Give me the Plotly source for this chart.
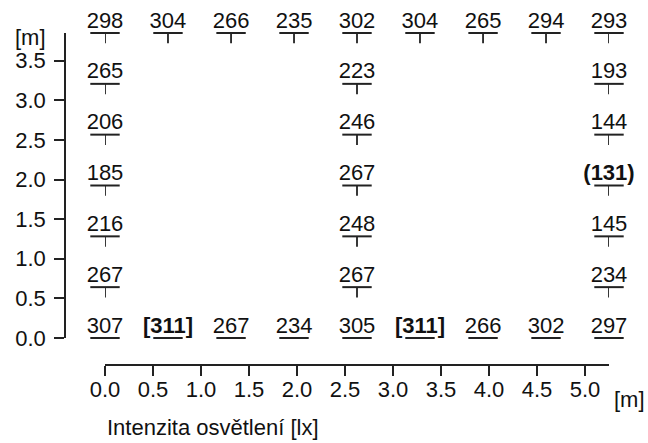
import plotly.graph_objects as go

# Measurement grid positions [m]
col_x = [0.0, 0.656, 1.313, 1.969, 2.625, 3.281, 3.938, 4.594, 5.25]
row_y = [0.0, 0.642, 1.283, 1.925, 2.567, 3.208, 3.85]

# Illuminance [lx] along the top and bottom walls (left to right)
top_lux = [298, 304, 266, 235, 302, 304, 265, 294, 293]
bottom_lux = [307, 311, 267, 234, 305, 311, 266, 302, 297]

# Illuminance [lx] on the inner rows (bottom to top) for left, middle, right columns
left_lux = [267, 216, 185, 206, 265]
middle_lux = [267, 248, 267, 246, 223]
right_lux = [234, 145, 131, 144, 193]
middle_col = 4  # index into col_x

x_ticks = [0.0, 0.5, 1.0, 1.5, 2.0, 2.5, 3.0, 3.5, 4.0, 4.5, 5.0]
y_ticks = [0.0, 0.5, 1.0, 1.5, 2.0, 2.5, 3.0, 3.5]

# Assemble points
xs, ys, vals = [], [], []
for i, v in enumerate(bottom_lux):
    xs.append(col_x[i]); ys.append(row_y[0]); vals.append(v)
for i, v in enumerate(top_lux):
    xs.append(col_x[i]); ys.append(row_y[-1]); vals.append(v)
for j in range(len(left_lux)):
    yy = row_y[j + 1]
    for cx, arr in ((col_x[0], left_lux), (col_x[middle_col], middle_lux), (col_x[-1], right_lux)):
        xs.append(cx); ys.append(yy); vals.append(arr[j])

vmax, vmin = max(vals), min(vals)


def label(v):
    if v == vmax:
        return f"<b>[{v}]</b>"
    if v == vmin:
        return f"<b>({v})</b>"
    return str(v)


texts = [label(v) for v in vals]

FONT = "Liberation Sans, Arial, Helvetica, sans-serif"
INK = "#222222"
TXT = "#111111"
FS = 22
STEM = 0.13  # length of the marker stem below each point [m]

fig = go.Figure()

# T-shaped point markers: horizontal bar + short stem downward
fig.add_trace(go.Scatter(
    x=xs, y=ys, mode="markers",
    marker=dict(symbol="line-ew", size=21, line=dict(width=2, color=INK), color=INK),
    error_y=dict(type="data", symmetric=False, array=[0] * len(ys),
                 arrayminus=[STEM] * len(ys), width=0, thickness=1.8, color=INK),
    cliponaxis=False, hoverinfo="skip", showlegend=False,
))

# Value labels
fig.add_trace(go.Scatter(
    x=xs, y=ys, mode="text", text=texts, textposition="top center",
    textfont=dict(family=FONT, size=FS, color=TXT),
    cliponaxis=False, hoverinfo="skip", showlegend=False,
))

W, H = 648, 443
ml, mr, mt, mb = 65, 39, 33, 78
pw, ph = W - ml - mr, H - mt - mb

fig.update_layout(
    width=W, height=H,
    margin=dict(l=ml, r=mr, t=mt, b=mb, pad=0),
    paper_bgcolor="white", plot_bgcolor="white",
    font=dict(family=FONT, size=FS, color=TXT),
    xaxis=dict(
        domain=[(105 - ml) / pw, 1], range=[col_x[0], col_x[-1]],
        anchor="free", position=0,
        showgrid=False, zeroline=False,
        showline=True, linecolor=INK, linewidth=1.5,
        ticks="outside", ticklen=10, tickwidth=1.5, tickcolor=INK,
        tickvals=x_ticks, ticktext=[f"{t:.1f}" for t in x_ticks],
        tickfont=dict(family=FONT, size=FS, color=TXT),
        ticklabelstandoff=-5,
    ),
    yaxis=dict(
        domain=[(365 - 338) / ph, 1], range=[row_y[0], row_y[-1]],
        anchor="free", position=0,
        showgrid=False, zeroline=False,
        showline=True, linecolor=INK, linewidth=1.5,
        ticks="outside", ticklen=10, tickwidth=1.5, tickcolor=INK,
        tickvals=y_ticks, ticktext=[f"{t:.1f}" for t in y_ticks],
        tickfont=dict(family=FONT, size=FS, color=TXT),
        ticklabelstandoff=4,
    ),
    annotations=[
        dict(text="[m]", xref="paper", yref="paper", x=(30 - ml) / pw, y=(H - mb - 37) / ph,
             xanchor="center", yanchor="middle", showarrow=False,
             font=dict(family=FONT, size=FS, color=TXT)),
        dict(text="[m]", xref="paper", yref="paper", x=(629 - ml) / pw, y=(H - mb - 399) / ph,
             xanchor="center", yanchor="middle", showarrow=False,
             font=dict(family=FONT, size=FS, color=TXT)),
        dict(text="Intenzita osvětlení [lx]", xref="paper", yref="paper",
             x=(105 - ml) / pw, y=(H - mb - 427) / ph,
             xanchor="left", yanchor="middle", showarrow=False,
             font=dict(family=FONT, size=FS, color=TXT)),
    ],
)

fig.write_html("out.html")
